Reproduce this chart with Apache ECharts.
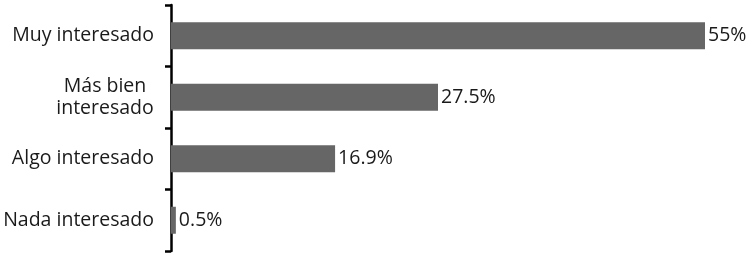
<!DOCTYPE html>
<html><head><meta charset="utf-8">
<script src="https://cdn.jsdelivr.net/npm/echarts@6/dist/echarts.min.js"></script>
<style>html,body{margin:0;padding:0;background:#fff}#c{width:751px;height:257px}</style>
</head><body><div id="c"></div>
<script>
const categories = ['Muy interesado', 'Más bien\ninteresado', 'Algo interesado', 'Nada interesado'];
const values = [55, 27.5, 16.9, 0.5];
const valueLabels = ['55%', '27.5%', '16.9%', '0.5%'];

const FS = 19.5;
const chart = echarts.init(document.getElementById('c'));
chart.setOption({
  animation: false,
  grid: { left: 171, right: 46, top: 5, bottom: 6, containLabel: false },
  xAxis: { type: 'value', min: 0, max: 55, show: false },
  yAxis: {
    type: 'category', data: categories, inverse: true,
    axisLine: { show: true, lineStyle: { color: '#000', width: 2.5 } },
    axisTick: { show: true, length: 6, lineStyle: { color: '#000', width: 2.5 } },
    axisLabel: {
      margin: 17, color: '#1a1a1a', fontSize: FS, fontFamily: 'Open Sans',
      formatter: function (v) {
        if (v.indexOf('\n') >= 0) {
          return v.split('\n').map(s => '{c|' + s + '}').join('\n');
        }
        return v;
      },
      rich: { c: { width: 98, align: 'center', fontSize: FS, fontFamily: 'Open Sans', color: '#1a1a1a', lineHeight: 22 } }
    }
  },
  series: [{
    type: 'bar', data: values, barWidth: 27,
    itemStyle: { color: '#666666' },
    label: {
      show: true, position: 'right', distance: 3, color: '#1a1a1a', fontSize: FS, fontFamily: 'Open Sans',
      formatter: p => valueLabels[p.dataIndex]
    }
  }]
});
</script></body></html>
